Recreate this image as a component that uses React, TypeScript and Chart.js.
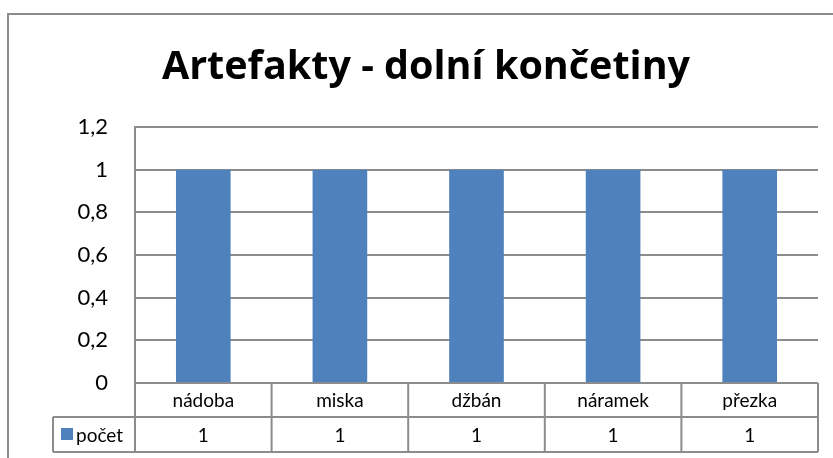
import React, { useEffect, useRef } from "react";
import { Chart, registerables } from "chart.js";

Chart.register(...registerables);

const TITLE = "Artefakty - dolní končetiny";
const CATEGORIES = ["nádoba", "miska", "džbán", "náramek", "přezka"];
const SERIES_NAME = "počet";
const VALUES = [1, 1, 1, 1, 1];
const Y_MIN = 0;
const Y_MAX = 1.2;
const Y_STEP = 0.2;

const BAR_COLOR = "#4F81BD";
const LINE_COLOR = "#8c8c8c";
const FONT = "Lato, 'Open Sans', sans-serif";
const TITLE_FONT = "'Open Sans', Lato, sans-serif";

const fmt = (v: number) => {
  const r = Math.round(v * 10) / 10;
  return String(r).replace(".", ",");
};

const decorPlugin = {
  id: "decor",
  afterDraw(chart: any) {
    const { ctx, chartArea, scales } = chart;
    const xs = scales.x;
    const n = CATEGORIES.length;
    const left = chartArea.left;
    const right = chartArea.right;
    const bottom = chartArea.bottom;
    const cw = (right - left) / n;
    const row1Bottom = bottom + 34;
    const row2Bottom = bottom + 69;
    const legendLeft = 53;

    ctx.save();
    // outer chart border
    ctx.strokeStyle = LINE_COLOR;
    ctx.lineWidth = 2;
    ctx.beginPath();
    ctx.moveTo(8, chart.height);
    ctx.lineTo(8, 14);
    ctx.lineTo(chart.width, 14);
    ctx.stroke();

    // title
    ctx.fillStyle = "#000";
    ctx.font = `bold 39.5px ${TITLE_FONT}`;
    ctx.textAlign = "center";
    ctx.textBaseline = "alphabetic";
    ctx.fillText(TITLE, 426, 79);

    // data table lines
    ctx.lineWidth = 2;
    ctx.strokeStyle = LINE_COLOR;
    ctx.beginPath();
    ctx.moveTo(left, bottom);
    ctx.lineTo(right, bottom);
    ctx.moveTo(legendLeft, row1Bottom);
    ctx.lineTo(right, row1Bottom);
    ctx.moveTo(legendLeft, row2Bottom);
    ctx.lineTo(right, row2Bottom);
    ctx.moveTo(legendLeft, row1Bottom);
    ctx.lineTo(legendLeft, row2Bottom);
    for (let i = 0; i <= n; i++) {
      const x = left + i * cw;
      ctx.moveTo(x, bottom);
      ctx.lineTo(x, row2Bottom);
    }
    ctx.stroke();

    // category labels and values
    ctx.font = `19px ${FONT}`;
    ctx.textAlign = "center";
    ctx.textBaseline = "middle";
    ctx.fillStyle = "#000";
    for (let i = 0; i < n; i++) {
      const cx = xs.getPixelForValue(i);
      ctx.fillText(CATEGORIES[i], cx, (bottom + row1Bottom) / 2 + 1);
      ctx.fillText(String(VALUES[i]), cx, (row1Bottom + row2Bottom) / 2 + 1);
    }

    // legend key
    ctx.fillStyle = BAR_COLOR;
    ctx.fillRect(61, row1Bottom + 11, 12, 12);
    ctx.fillStyle = "#000";
    ctx.textAlign = "left";
    ctx.fillText(SERIES_NAME, 76, (row1Bottom + row2Bottom) / 2 + 1);
    ctx.restore();
  },
};

export default function App() {
  const ref = useRef<HTMLCanvasElement | null>(null);
  useEffect(() => {
    if (!ref.current) return;
    const chart = new Chart(ref.current, {
      type: "bar",
      data: {
        labels: CATEGORIES,
        datasets: [
          {
            label: SERIES_NAME,
            data: VALUES,
            backgroundColor: BAR_COLOR,
            categoryPercentage: 1,
            barPercentage: 0.4,
          },
        ],
      },
      options: {
        animation: false,
        responsive: false,
        maintainAspectRatio: false,
        layout: { padding: { top: 127, right: 15, bottom: 75, left: 0 } },
        plugins: {
          legend: { display: false },
          title: { display: false },
          tooltip: { enabled: false },
        },
        scales: {
          x: { display: false },
          y: {
            min: Y_MIN,
            max: Y_MAX,
            afterFit: (s: any) => {
              s.width = 135;
            },
            ticks: {
              stepSize: Y_STEP,
              callback: (v: any) => fmt(Number(v)),
              color: "#000",
              font: { family: FONT, size: 22 },
              padding: 27,
            },
            grid: { color: LINE_COLOR, lineWidth: 2, drawTicks: false },
            border: { display: true, color: LINE_COLOR, width: 2 },
          },
        },
      },
      plugins: [decorPlugin],
    });
    return () => chart.destroy();
  }, []);
  return (
    <div style={{ position: "fixed", left: 0, top: 0, width: 833, height: 458, background: "#fff" }}>
      <canvas ref={ref} width={833} height={458} style={{ display: "block" }} />
    </div>
  );
}
